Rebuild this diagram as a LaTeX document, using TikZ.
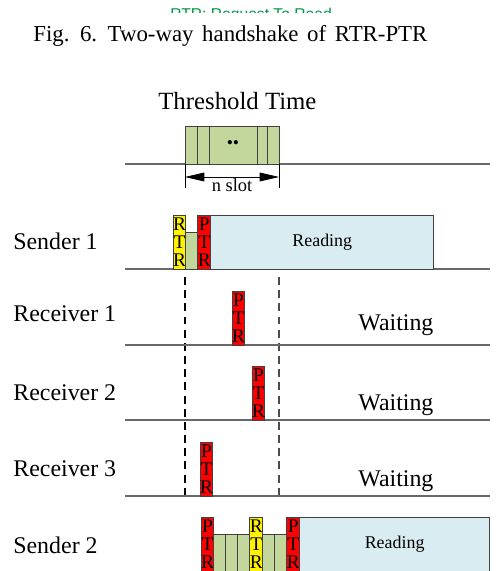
\documentclass[tikz,border=0pt]{standalone}
\usepackage{fontspec}
\setmainfont{Liberation Serif}
\newfontfamily\notefont{Liberation Sans}
\usetikzlibrary{arrows.meta}

\definecolor{slotgreen}{RGB}{195,214,155}
\definecolor{readblue}{RGB}{216,236,242}
\definecolor{linegray}{RGB}{105,105,105}
\definecolor{notegreen}{RGB}{0,150,70}

\tikzset{
  frame/.style={draw=black!75, line width=0.5pt, inner sep=0pt, outer sep=0pt, anchor=south west},
  rtrbox/.style={frame, fill=yellow, minimum width=0.24cm, minimum height=1.08cm,
    align=center, font=\fontsize{11}{10.2}\selectfont},
  ptrbox/.style={rtrbox, fill=red},
  padbox/.style={frame, fill=slotgreen, minimum width=0.24cm, minimum height=0.74cm},
  slotbox/.style={frame, fill=slotgreen, minimum width=0.24cm, minimum height=0.76cm,
    font=\fontsize{10}{10}\selectfont},
  readbox/.style={frame, fill=readblue, minimum height=1.08cm, font=\fontsize{10.2}{12}\selectfont},
  timeline/.style={draw=linegray, line width=0.8pt},
  guide/.style={line width=0.6pt, dash pattern=on 4.5pt off 3pt},
  who/.style={anchor=base west, inner sep=0pt, font=\fontsize{13.6}{16}\selectfont},
  slottip/.tip={Triangle[length=11pt,width=5pt]},
}

\begin{document}
\begin{tikzpicture}[x=0.02cm, y=-0.02cm]
    \useasboundingbox (0,0) rectangle (499,571);

    % note left over at the top
    \begin{scope}
        \clip (0,0) rectangle (499,13);
        \node[anchor=base west, inner sep=0pt, text=notegreen,
          font=\notefont\fontsize{8.9}{10}\selectfont] (note) at (170,20) {RTR: Request To Read};
    \end{scope}
    \node[anchor=base west, inner sep=0pt, font=\fontsize{13}{15}\selectfont] (caption) at (33,42)
      {\spaceskip=4.9pt Fig. 6. Two-way handshake of RTR-PTR};

    % threshold window
    \node[anchor=base west, inner sep=0pt, font=\fontsize{14.1}{16}\selectfont] (thtime) at (158,110) {Threshold Time};
    \draw[timeline] (125,164) -- (490,164);
    \node[slotbox] (t1) at (185,164) {};
    \node[slotbox] (t2) at (t1.south east) {};
    \node[slotbox, minimum width=0.96cm] (t3) at (t2.south east) {\textbullet\textbullet};
    \node[slotbox, minimum width=0.2cm] (t4) at (t3.south east) {};
    \node[slotbox] (t5) at (t4.south east) {};

    \coordinate (dimL) at (185,177);
    \coordinate (dimR) at (279,177);
    \draw (t1.south west) -- ++(0,24);
    \draw (t5.south east) -- ++(0,24);
    \draw[slottip-slottip] (dimL) -- (dimR);
    \node[anchor=north, inner sep=0.5pt, font=\fontsize{10.5}{12}\selectfont] (nslot) at (232,177) {n slot};

    % Sender 1
    \node[who] (snd1) at (13,249) {Sender 1};
    \draw[timeline] (125,269) -- (490,269);
    \node[rtrbox] (s1rtr) at (173,269) {R\\T\\R};
    \node[padbox] (s1pad) at (s1rtr.south east) {};
    \node[ptrbox] (s1ptr) at (s1pad.south east) {P\\T\\R};
    \node[readbox, minimum width=4.46cm] (s1read) at (s1ptr.south east) {Reading};

    % threshold guides
    \coordinate (gL1) at (185,277);
    \coordinate (gL2) at (185,496);
    \coordinate (gR1) at (279,277);
    \coordinate (gR2) at (279,496);
    \draw[guide] (gL1) -- (gL2);
    \draw[guide, black!70] (gR1) -- (gR2);

    % Receiver 1
    \node[who] (rcv1) at (13,321) {Receiver 1};
    \draw[timeline] (125,345) -- (490,345);
    \node[ptrbox] (r1ptr) at (232,345) {P\\T\\R};
    \node[who] (wait1) at (358,330) {Waiting};

    % Receiver 2
    \node[who] (rcv2) at (13,400) {Receiver 2};
    \draw[timeline] (125,420) -- (490,420);
    \node[ptrbox] (r2ptr) at (252,420) {P\\T\\R};
    \node[who] (wait2) at (358,410) {Waiting};

    % Receiver 3
    \node[who] (rcv3) at (13,476) {Receiver 3};
    \draw[timeline] (125,496) -- (490,496);
    \node[ptrbox] (r3ptr) at (200,496) {P\\T\\R};
    \node[who] (wait3) at (358,486) {Waiting};

    % Sender 2
    \node[who] (snd2) at (13,553) {Sender 2};
    \node[ptrbox] (s2ptr1) at (201,571) {P\\T\\R};
    \node[padbox] (s2pad1) at (s2ptr1.south east) {};
    \node[padbox] (s2pad2) at (s2pad1.south east) {};
    \node[padbox] (s2pad3) at (s2pad2.south east) {};
    \node[rtrbox] (s2rtr) at (s2pad3.south east) {R\\T\\R};
    \node[padbox] (s2pad4) at (s2rtr.south east) {};
    \node[padbox] (s2pad5) at (s2pad4.south east) {};
    \node[ptrbox] (s2ptr2) at (s2pad5.south east) {P\\T\\R};
    \node[readbox, minimum width=3.8cm] (s2read) at (s2ptr2.south east) {Reading};
\end{tikzpicture}
\end{document}
